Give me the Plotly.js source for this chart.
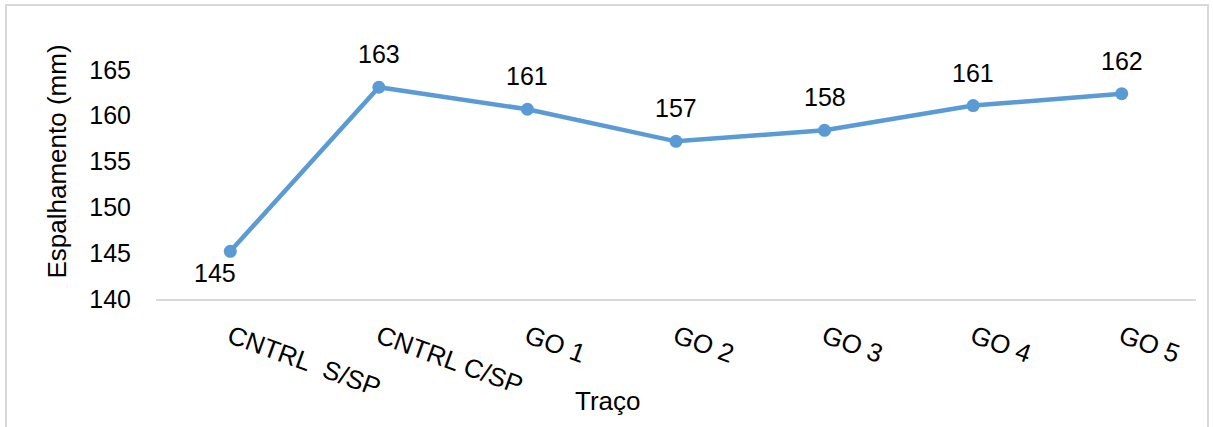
<!DOCTYPE html>
<html>
<head>
<meta charset="utf-8">
<script src="https://cdn.plot.ly/plotly-3.0.1.min.js"></script>
<style>
  html, body { margin: 0; padding: 0; background: #ffffff; }
  #wrap { position: relative; width: 1213px; height: 427px; overflow: hidden; }
  #chart { position: absolute; left: 0; top: 0; width: 1213px; height: 427px; }
  #frame { position: absolute; left: 5px; top: 4px; width: 1204px; height: 440px;
           border: 2px solid #d9d9d9; pointer-events: none; box-sizing: border-box; }
</style>
</head>
<body>
<div id="wrap">
  <div id="chart"></div>
  <div id="frame"></div>
</div>
<script>
// Spread (mm) for each mix trace
const tracos = ['CNTRL\u00a0 S/SP', 'CNTRL C/SP', 'GO 1', 'GO 2', 'GO 3', 'GO 4', 'GO 5'];
const espalhamento = [145.2, 163.1, 160.7, 157.2, 158.4, 161.1, 162.4];
const yTicks = [140, 145, 150, 155, 160, 165];

const FONT = 'Liberation Sans, Arial, sans-serif';
const FS = 26;
const BLUE = '#5b9bd5';

const W = 1213, H = 427;
const margin = { l: 156, r: 17, t: 24, b: 128, pad: 0 };
const plotW = W - margin.l - margin.r;
const plotH = H - margin.t - margin.b;

// Value labels: first one sits below its point, the rest above
const annotations = tracos.map((c, i) => ({
  x: c,
  y: espalhamento[i],
  xref: 'x', yref: 'y',
  text: String(Math.round(espalhamento[i])),
  showarrow: false,
  xanchor: 'center', yanchor: 'middle',
  xshift: i === 0 ? -15 : 0,
  yshift: i === 0 ? -22 : 33,
  font: { family: FONT, size: FS - 1, color: '#000000' }
}));

// Horizontal axis title placed under the category labels
annotations.push({
  xref: 'paper', yref: 'paper',
  x: (608 - margin.l) / plotW,
  y: (H - margin.b - 401) / plotH,
  xanchor: 'center', yanchor: 'middle',
  text: 'Traço', showarrow: false,
  font: { family: FONT, size: FS, color: '#000000' }
});

const trace = {
  type: 'scatter',
  mode: 'lines+markers',
  x: tracos,
  y: espalhamento,
  line: { color: BLUE, width: 4.5 },
  marker: { color: BLUE, size: 13 },
  hoverinfo: 'x+y'
};

const layout = {
  width: W, height: H,
  margin: margin,
  paper_bgcolor: '#ffffff',
  plot_bgcolor: '#ffffff',
  showlegend: false,
  font: { family: FONT, size: FS, color: '#000000' },
  xaxis: {
    type: 'category',
    range: [-0.5, tracos.length - 0.5],
    tickangle: 20,
    showgrid: false,
    zeroline: false,
    showline: true,
    linecolor: '#d9d9d9',
    linewidth: 1.5,
    ticks: '',
    ticklabelstandoff: 11,
    tickfont: { family: FONT, size: FS, color: '#000000' }
  },
  yaxis: {
    range: [140, 170],
    tickmode: 'array',
    tickvals: yTicks,
    ticktext: yTicks.map(String),
    showgrid: false,
    zeroline: false,
    showline: false,
    ticks: '',
    ticklabelstandoff: 24,
    tickfont: { family: FONT, size: FS - 1, color: '#000000' },
    title: { text: 'Espalhamento (mm)', font: { family: FONT, size: FS, color: '#000000' }, standoff: 15 }
  },
  annotations: annotations
};

Plotly.newPlot('chart', [trace], layout, { displayModeBar: false, staticPlot: true });
</script>
</body>
</html>
